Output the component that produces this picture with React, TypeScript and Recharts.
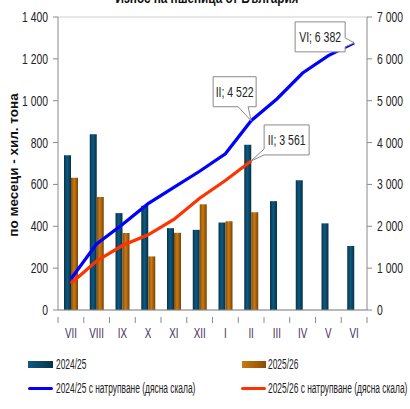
import React from 'react';
import { ComposedChart, Bar, Line, XAxis, YAxis, CartesianGrid } from 'recharts';

const months = ['VII', 'VIII', 'IX', 'X', 'XI', 'XII', 'I', 'II', 'III', 'IV', 'V', 'VI'];
const export2425 = [740, 840, 463, 498, 391, 383, 418, 789, 520, 620, 414, 306];
const export2526 = [632, 540, 368, 256, 369, 505, 424, 467, null, null, null, null];
const cum2425 = [740, 1580, 2043, 2541, 2932, 3315, 3733, 4522, 5042, 5662, 6076, 6382];
const cum2526 = [632, 1172, 1540, 1796, 2165, 2670, 3094, 3561, null, null, null, null];
const leftTicks = [0, 200, 400, 600, 800, 1000, 1200, 1400];
const rightTicks = [0, 1000, 2000, 3000, 4000, 5000, 6000, 7000];

const data = months.map((m, i) => ({
  m,
  a: export2425[i],
  b: export2526[i],
  ca: cum2425[i],
  cb: cum2526[i],
}));

const SANS = "'Liberation Sans', Arial, sans-serif";

const fmt = (v: number) => {
  if (v >= 1000) {
    const s = String(v);
    return s.slice(0, s.length - 3) + ' ' + s.slice(s.length - 3);
  }
  return String(v);
};

const NText = (p: { x: number; y: number; anchor?: string; size?: number; sx?: number; fill?: string; weight?: string; children: any }) => (
  <text
    transform={`translate(${p.x},${p.y}) scale(${p.sx ?? 0.74},1)`}
    textAnchor={(p.anchor as any) ?? 'middle'}
    fontFamily={SANS}
    fontSize={p.size ?? 14}
    fontWeight={p.weight ?? 'normal'}
    fill={p.fill ?? '#222'}
  >
    {p.children}
  </text>
);

const callout = (
  px: number, py: number, bx: number, by: number, w: number, h: number,
  side: 'left' | 'right' | 'bottom', a: number, b: number, text: string
) => {
  let d = '';
  if (side === 'bottom') {
    d = `M${bx},${by} H${bx + w} V${by + h} H${b} L${px},${py} L${a},${by + h} H${bx} Z`;
  } else if (side === 'right') {
    d = `M${bx},${by} H${bx + w} V${a} L${px},${py} L${bx + w},${b} V${by + h} H${bx} Z`;
  } else {
    d = `M${bx},${by} H${bx + w} V${by + h} H${bx} V${b} L${px},${py} L${bx},${a} Z`;
  }
  return (
    <g>
      <path d={d} fill="#fff" stroke="#8a8a8a" strokeWidth={1} />
      <NText x={bx + w / 2} y={by + h / 2 + 5} size={14} sx={0.75}>
        {text}
      </NText>
    </g>
  );
};

const blueLabel = (props: any) => {
  const { x, y, index } = props;
  if (index === 7) return callout(x, y, x - 38, y - 44, 43, 30, 'bottom', x - 13, x - 3, 'II; 4 522');
  if (index === 11) return callout(x, y, x - 59, y - 21, 50, 30, 'right', y - 5, y + 4, 'VI; 6 382');
  return null;
};

const redLabel = (props: any) => {
  const { x, y, index } = props;
  if (index === 7) return callout(x, y, x + 13, y - 36, 45, 30, 'left', y - 12, y - 6, 'II; 3 561');
  return null;
};

const BAND = 309 / 12;

const XTick = (props: any) => {
  const { x, y, payload, index } = props;
  return (
    <g>
      <line x1={x - BAND / 2} y1={y - 1} x2={x - BAND / 2} y2={y + 5} stroke="#8a8a8a" />
      {index === 11 && <line x1={x + BAND / 2} y1={y - 1} x2={x + BAND / 2} y2={y + 5} stroke="#8a8a8a" />}
      <NText x={x} y={y + 20} size={14} sx={0.7} fill="#4a2f63">
        {payload.value}
      </NText>
    </g>
  );
};

const LTick = (props: any) => {
  const { x, y, payload } = props;
  return (
    <NText x={x} y={y + 5} anchor="end" size={14} sx={0.74}>
      {fmt(payload.value)}
    </NText>
  );
};

const RTick = (props: any) => {
  const { x, y, payload } = props;
  return (
    <NText x={x} y={y + 5} anchor="start" size={14} sx={0.74}>
      {fmt(payload.value)}
    </NText>
  );
};

const legText: React.CSSProperties = {
  position: 'absolute',
  lineHeight: '15px',
  whiteSpace: 'nowrap',
  transform: 'scaleX(0.6)',
  transformOrigin: 'left center',
  fontFamily: SANS,
  fontSize: 14,
  color: '#222',
};

export default function App() {
  return (
    <div style={{ position: 'absolute', left: 0, top: 0, width: 410, height: 409, background: '#fff', overflow: 'hidden' }}>
      <svg width={410} height={409} style={{ position: 'absolute', left: 0, top: 0 }}>
        <NText x={207} y={3} size={14} sx={0.84} weight="bold" fill="#111">
          Износ на пшеница от България
        </NText>
        <text
          x={0}
          y={0}
          transform="translate(18,165) rotate(-90)"
          textAnchor="middle"
          fontFamily={SANS}
          fontWeight="bold"
          fontSize={13.5}
          fill="#111"
        >
          по месеци - хил. тона
        </text>
      </svg>
      <div style={{ position: 'absolute', left: 0, top: 0 }}>
        <ComposedChart
          width={410}
          height={409}
          data={data}
          margin={{ top: 17, right: 0, bottom: 74, left: 0 }}
          barGap={0}
          barCategoryGap="46%"
        >
          <defs>
            <linearGradient id="gA" x1="0" y1="0" x2="1" y2="0">
              <stop offset="0%" stopColor="#08324a" />
              <stop offset="45%" stopColor="#0e5a80" />
              <stop offset="100%" stopColor="#063048" />
            </linearGradient>
            <linearGradient id="gB" x1="0" y1="0" x2="1" y2="0">
              <stop offset="0%" stopColor="#8a4c04" />
              <stop offset="45%" stopColor="#c97a12" />
              <stop offset="100%" stopColor="#7a4204" />
            </linearGradient>
          </defs>
          <CartesianGrid vertical={false} stroke="#cfcfcf" strokeWidth={1.2} />
          <XAxis
            dataKey="m"
            height={25}
            tick={<XTick />}
            tickLine={false}
            axisLine={{ stroke: '#8a8a8a' }}
            interval={0}
          />
          <YAxis
            yAxisId="l"
            width={58}
            domain={[0, 1400]}
            ticks={leftTicks}
            tick={<LTick />}
            tickSize={5}
            tickMargin={5}
            axisLine={{ stroke: '#8a8a8a' }}
            tickLine={{ stroke: '#8a8a8a' }}
            interval={0}
          />
          <YAxis
            yAxisId="r"
            orientation="right"
            width={43}
            domain={[0, 7000]}
            ticks={rightTicks}
            tick={<RTick />}
            tickSize={5}
            tickMargin={5}
            axisLine={{ stroke: '#8a8a8a' }}
            tickLine={{ stroke: '#8a8a8a' }}
            interval={0}
          />
          <Bar yAxisId="l" dataKey="a" fill="url(#gA)" barSize={7} isAnimationActive={false} />
          <Bar yAxisId="l" dataKey="b" fill="url(#gB)" barSize={7} isAnimationActive={false} />
          <Line
            yAxisId="r"
            dataKey="ca"
            stroke="#0000ff"
            strokeWidth={3.2}
            dot={false}
            activeDot={false}
            isAnimationActive={false}
            label={blueLabel}
          />
          <Line
            yAxisId="r"
            dataKey="cb"
            stroke="#ff3300"
            strokeWidth={3.2}
            dot={false}
            activeDot={false}
            isAnimationActive={false}
            label={redLabel}
          />
        </ComposedChart>
      </div>
      <div style={{ position: 'absolute', left: 0, top: 0, width: 410, height: 409, pointerEvents: 'none' }}>
        <div style={{ position: 'absolute', left: 28, top: 361, width: 25, height: 7, background: 'linear-gradient(90deg,#0e5a80,#08324a)' }} />
        <div style={{ ...legText, left: 56, top: 357 }}>2024/25</div>
        <div style={{ position: 'absolute', left: 242, top: 361, width: 24, height: 7, background: 'linear-gradient(90deg,#c97a12,#8a4c04)' }} />
        <div style={{ ...legText, left: 268, top: 357 }}>2025/26</div>
        <div style={{ position: 'absolute', left: 28, top: 387, width: 25, height: 3, background: '#0000ff', borderRadius: 2 }} />
        <div style={{ ...legText, left: 56, top: 381 }}>2024/25 с натрупване (дясна скала)</div>
        <div style={{ position: 'absolute', left: 241, top: 387, width: 25, height: 3, background: '#ff3300', borderRadius: 2 }} />
        <div style={{ ...legText, left: 268, top: 381 }}>2025/26 с натрупване (дясна скала)</div>
      </div>
    </div>
  );
}
